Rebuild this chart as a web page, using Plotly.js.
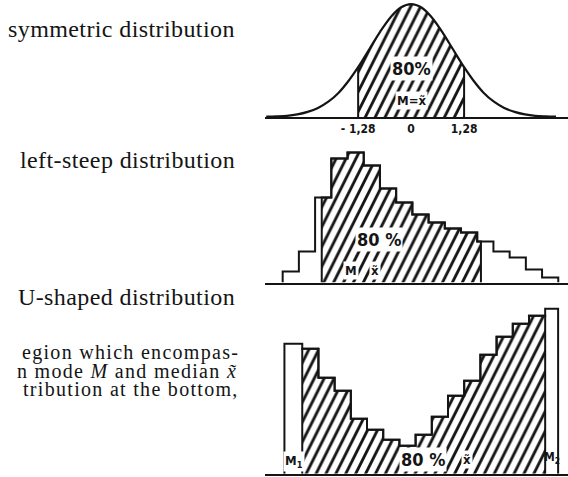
<!DOCTYPE html>
<html>
<head>
<meta charset="utf-8">
<script src="https://cdn.plot.ly/plotly-3.0.1.min.js"></script>
<style>
  html, body { margin: 0; padding: 0; background: #fff; overflow: hidden; }
  #chart { width: 568px; height: 477px; }
</style>
</head>
<body>
<div id="chart"></div>
<script>
// Symmetric (normal) distribution: standardised z and density heights
const zValues = [-3.5, -3.25, -3, -2.75, -2.5, -2.25, -2, -1.75, -1.5, -1.28, -1, -0.75, -0.5, -0.25, 0,
                 0.25, 0.5, 0.75, 1, 1.28, 1.5, 1.75, 2, 2.25, 2.5, 2.75, 3, 3.25, 3.5];
const density = [0.001, 0.002, 0.004, 0.009, 0.018, 0.032, 0.054, 0.086, 0.130, 0.176, 0.242, 0.301, 0.352, 0.387, 0.399,
                 0.387, 0.352, 0.301, 0.242, 0.176, 0.130, 0.086, 0.054, 0.032, 0.018, 0.009, 0.004, 0.002, 0.001];
const zCut = 1.28;                         // central 80 % lies within ±1.28
const zTickVals = [-1.28, 0, 1.28];
const zTickText = ['- 1,28', '0', '1,28'];

// Left-steep distribution: class limits and frequencies
const steepEdges = [0, 1, 2, 3, 4, 5, 6, 7, 8, 9, 10, 11, 12, 13, 14, 15, 16, 17];
const steepFreq  = [11, 31, 85, 124, 130, 117, 94, 80, 68, 60, 54, 50, 41, 31, 25, 13, 5];
const steepLow = 2.41, steepHigh = 12.23;   // 10 % and 90 % points

// U-shaped distribution: class limits and frequencies
const uEdges = [-0.1, 1, 2, 3, 4, 5, 6, 7, 8, 9, 10, 11, 12, 13, 14, 15, 16, 16.8];
const uFreq  = [130, 125, 96, 83, 55, 44, 34, 28, 39, 57, 78, 93, 119, 137, 150, 158, 165];
const uLow = 1, uHigh = 16;

// ---- helpers -------------------------------------------------------------
function stepOutline(edges, h) {
  const xs = [edges[0], edges[0]], ys = [0, h[0]];
  for (let i = 1; i < h.length; i++) { xs.push(edges[i]); ys.push(h[i]); }
  xs.push(edges[edges.length - 1]); ys.push(0);
  return {xs, ys};
}
function stepBetween(edges, h, a, b) {
  let i = 0;
  while (!(edges[i] <= a && a < edges[i + 1])) i++;
  const xs = [a, a], ys = [0, h[i]];
  for (let j = i + 1; edges[j] < b; j++) { xs.push(edges[j]); ys.push(h[j]); }
  xs.push(b); ys.push(0);
  return {xs, ys};
}

const INK = '#141414';
const hatch = {shape: '/', size: 14, solidity: 0.32, fgcolor: INK, bgcolor: 'white', fillmode: 'replace'};
const condensed = 'DejaVu Sans Condensed, Liberation Sans Narrow, Arial Narrow, sans-serif';
const serif = 'Liberation Serif, Times New Roman, serif';

// ---- traces ---------------------------------------------------------------
const inner = zValues.map((z, i) => [z, density[i]]).filter(p => Math.abs(p[0]) <= zCut + 1e-9);
const cutL = density[zValues.indexOf(-zCut)], cutR = density[zValues.indexOf(zCut)];

const steepOut = stepOutline(steepEdges, steepFreq);
const steepMid = stepBetween(steepEdges, steepFreq, steepLow, steepHigh);
const uOut = stepOutline(uEdges, uFreq);
const uMid = stepBetween(uEdges, uFreq, uLow, uHigh);

const traces = [
  // normal curve: hatched centre, outline, boundaries
  {x: inner.map(p => p[0]), y: inner.map(p => p[1]), xaxis: 'x', yaxis: 'y', type: 'scatter', mode: 'lines',
   line: {width: 0, shape: 'spline', smoothing: 1}, fill: 'tozeroy', fillcolor: 'white', fillpattern: hatch,
   hoverinfo: 'skip', cliponaxis: false},
  {x: zValues, y: density, xaxis: 'x', yaxis: 'y', type: 'scatter', mode: 'lines',
   line: {color: INK, width: 2.2, shape: 'spline', smoothing: 1}, cliponaxis: false},
  {x: [-zCut, -zCut, null, zCut, zCut], y: [0, cutL, null, 0, cutR], xaxis: 'x', yaxis: 'y',
   type: 'scatter', mode: 'lines', line: {color: INK, width: 2}, cliponaxis: false},

  // left-steep histogram
  {x: steepMid.xs, y: steepMid.ys, xaxis: 'x2', yaxis: 'y2', type: 'scatter', mode: 'lines',
   line: {color: INK, width: 2, shape: 'hv'}, fill: 'tozeroy', fillcolor: 'white', fillpattern: hatch,
   cliponaxis: false},
  {x: steepOut.xs, y: steepOut.ys, xaxis: 'x2', yaxis: 'y2', type: 'scatter', mode: 'lines',
   line: {color: INK, width: 2, shape: 'hv'}, cliponaxis: false},

  // U-shaped histogram
  {x: uMid.xs, y: uMid.ys, xaxis: 'x3', yaxis: 'y3', type: 'scatter', mode: 'lines',
   line: {color: INK, width: 2, shape: 'hv'}, fill: 'tozeroy', fillcolor: 'white', fillpattern: hatch,
   cliponaxis: false},
  {x: uOut.xs, y: uOut.ys, xaxis: 'x3', yaxis: 'y3', type: 'scatter', mode: 'lines',
   line: {color: INK, width: 2, shape: 'hv'}, cliponaxis: false}
];

// ---- layout ---------------------------------------------------------------
const W = 568, H = 477;
const px = v => v / W, py = v => 1 - v / H;
const baseX = {showgrid: false, zeroline: false, showline: true, linecolor: INK, linewidth: 2,
               ticks: '', showticklabels: false, fixedrange: true, domain: [px(265), 1]};
const baseY = {visible: false, fixedrange: true};

const inPanel = (text, x, y, xr, yr, size, extra) => Object.assign({
  text, x, y, xref: xr, yref: yr, showarrow: false, bgcolor: 'white', borderpad: 1,
  font: {family: condensed, size, color: INK, weight: 'bold'}
}, extra || {});
const spaced = (text, ls) => '<span style="letter-spacing:' + ls + 'px">' + text + '</span>';
const sideLabel = (text, yPix) => ({
  text: spaced(text, 0.4), x: px(237), y: py(yPix), xref: 'paper', yref: 'paper',
  xanchor: 'right', yanchor: 'middle', showarrow: false,
  font: {family: serif, size: 24, color: INK}
});
const bodyLine = (text, xPix, yPix) => ({
  text: spaced(text, 1.3), x: px(xPix), y: py(yPix), xref: 'paper', yref: 'paper',
  xanchor: 'right', yanchor: 'middle', showarrow: false,
  font: {family: serif, size: 20, color: INK}
});

const layout = {
  width: W, height: H, autosize: false,
  margin: {l: 0, r: 0, t: 0, b: 0, pad: 0},
  paper_bgcolor: 'white', plot_bgcolor: 'rgba(0,0,0,0)',
  showlegend: false, dragmode: false,
  xaxis: Object.assign({}, baseX, {anchor: 'y', range: [-3.53, 3.79], showticklabels: true,
    tickvals: zTickVals, ticktext: zTickText,
    tickfont: {family: condensed, size: 12, color: INK, weight: 'bold'}}),
  yaxis: Object.assign({}, baseY, {anchor: 'x', range: [0, 0.41], domain: [py(117), py(1)]}),
  xaxis2: Object.assign({}, baseX, {anchor: 'y2', range: [-1.09, 17.6]}),
  yaxis2: Object.assign({}, baseY, {anchor: 'x2', range: [0, 140], domain: [py(282.5), py(142.5)]}),
  xaxis3: Object.assign({}, baseX, {anchor: 'y3', range: [-1.30, 17.41]}),
  yaxis3: Object.assign({}, baseY, {anchor: 'x3', range: [0, 175], domain: [py(473.7), py(298.7)]}),
  annotations: [
    sideLabel('symmetric distribution', 29),
    sideLabel('left-steep distribution', 160),
    sideLabel('U-shaped distribution', 297),
    bodyLine('egion which encompas-', 241, 352),
    bodyLine('n mode <i>M</i> and median <i>x̃</i>', 239, 371),
    bodyLine('tribution at the bottom,', 241, 389),

    inPanel('80%', 0, 0.173, 'x', 'y', 18),
    inPanel('M=x̃', 0, 0.06, 'x', 'y', 13),

    inPanel('80 %', 5.94, 43.5, 'x2', 'y2', 18),
    inPanel('M', 4.21, 12.5, 'x2', 'y2', 13),
    inPanel('x̃', 5.69, 12.5, 'x2', 'y2', 13),

    inPanel('M<sub>1</sub>', 0.49, 12.7, 'x3', 'y3', 13),
    inPanel('80 %', 8.46, 14.7, 'x3', 'y3', 18),
    inPanel('x̃', 11.17, 14.7, 'x3', 'y3', 13),
    inPanel('M<sub>2</sub>', 16.42, 15.7, 'x3', 'y3', 12, {bgcolor: 'rgba(0,0,0,0)'})
  ]
};

const gd = document.getElementById('chart');
// hatch lines are steeper than 45°, so squeeze each pattern tile horizontally
function steepen() {
  gd.querySelectorAll('pattern').forEach(p => p.setAttribute('patternTransform', 'scale(0.5,1)'));
}
Plotly.newPlot(gd, traces, layout, {staticPlot: true, displayModeBar: false}).then(() => {
  steepen();
  gd.on && gd.on('plotly_afterplot', steepen);
});
</script>
</body>
</html>
